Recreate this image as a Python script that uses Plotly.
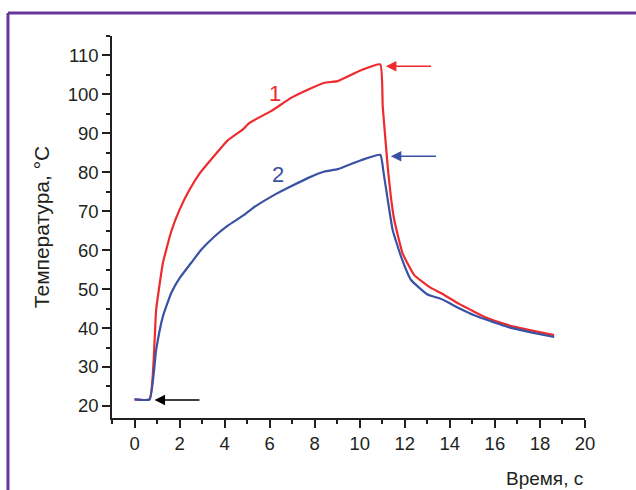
import plotly.graph_objects as go

# ---- data ----
time_1 = [0, 0.67, 0.96, 1.26, 1.63, 2.0, 2.44, 2.88, 3.55, 4.14, 4.81, 5.10, 6.06, 6.95,
          7.69, 8.43, 9.02, 10.05, 10.91, 11.02, 11.24, 11.38, 11.53, 11.90, 12.42, 13.16,
          13.6, 14.41, 15.08, 15.6, 16.56, 17.6, 18.63]
temp_1 = [21.7, 21.7, 44.7, 56.7, 64.8, 70.4, 75.5, 79.6, 84.3, 88.2, 91.0, 92.7, 95.7, 99.1,
          101.2, 103.0, 103.4, 106.2, 107.7, 96.9, 81.5, 73.8, 67.8, 59.2, 53.6, 50.3,
          49.0, 46.2, 44.2, 42.7, 40.8, 39.4, 38.2]

time_2 = [0, 0.67, 0.96, 1.26, 1.63, 2.0, 2.51, 2.96, 3.55, 4.14, 4.88, 5.25, 6.21, 6.95,
          7.69, 8.43, 9.02, 10.05, 10.91, 11.06, 11.24, 11.46, 11.83, 12.27, 13.01, 13.6,
          14.41, 15.08, 15.6, 16.56, 17.6, 18.63]
temp_2 = [21.7, 21.7, 34.4, 43.0, 49.0, 52.8, 56.7, 60.1, 63.5, 66.3, 69.1, 70.8, 74.2, 76.4,
          78.5, 80.2, 80.8, 83.1, 84.5, 79.8, 73.0, 65.2, 58.4, 52.4, 48.6, 47.5,
          45.1, 43.3, 42.2, 40.3, 38.9, 37.7]

curve_labels = ["1", "2"]
label_pos_t = [6.25, 6.36]
label_pos_T = [100.3, 79.4]

# arrows: (tip_t, tail_t, T)
arrow_tip_t = [11.16, 11.38, 0.89]
arrow_tail_t = [13.23, 13.45, 2.95]
arrow_T = [107.2, 84.1, 21.5]

x_range = [-1, 20]
y_range = [16.9, 115]
x_title = "Время, с"
y_title = "Температура, °C"

RED = "#ee2a2e"
BLUE = "#3a52a3"
PURPLE = "#66379a"
INK = "#231f20"
FONT = "Liberation Sans, Arial, sans-serif"

fig = go.Figure()
fig.add_trace(go.Scatter(x=time_1, y=temp_1, mode="lines", line_shape="spline",
                         line=dict(color=RED, width=2.2, smoothing=0.4), showlegend=False))
fig.add_trace(go.Scatter(x=time_2, y=temp_2, mode="lines", line_shape="spline",
                         line=dict(color=BLUE, width=2.2, smoothing=0.4), showlegend=False))

for txt, tx, ty, col in zip(curve_labels, label_pos_t, label_pos_T, [RED, BLUE]):
    fig.add_annotation(x=tx, y=ty, text=txt, showarrow=False,
                       font=dict(family=FONT, size=22, color=col))

for tip, tail, T, col in zip(arrow_tip_t, arrow_tail_t, arrow_T, [RED, BLUE, "black"]):
    fig.add_annotation(x=tip, y=T, ax=tail, ay=T, axref="x", ayref="y", xref="x", yref="y",
                       text="", showarrow=True, arrowhead=2, arrowsize=1.4,
                       arrowwidth=1.5, arrowcolor=col)

fig.add_annotation(x=1.0, y=-0.125, xref="paper", yref="paper", xanchor="right",
                   yanchor="top", text=x_title, showarrow=False,
                   font=dict(family=FONT, size=19, color=INK))

axis_common = dict(showline=True, linecolor=INK, linewidth=1.5, ticks="outside",
                   ticklen=8, tickwidth=1.5, tickcolor=INK, showgrid=False, zeroline=False,
                   automargin=False,
                   tickfont=dict(family=FONT, size=18.5, color=INK))

fig.update_xaxes(range=x_range, tick0=0, dtick=2,
                 minor=dict(dtick=1, ticks="outside", ticklen=4, tickwidth=1.5,
                            tickcolor=INK, showgrid=False),
                 **axis_common)
fig.update_yaxes(range=y_range, tick0=20, dtick=10,
                 minor=dict(dtick=5, ticks="outside", ticklen=4, tickwidth=1.5,
                            tickcolor=INK, showgrid=False),
                 title=dict(text=y_title, standoff=12,
                            font=dict(family=FONT, size=21, color=INK)),
                 **axis_common)

# purple frame (left and top)
fig.add_shape(type="line", xref="paper", yref="paper", x0=-0.2199, x1=-0.2199,
              y0=-0.2, y1=1.0602, line=dict(color=PURPLE, width=3))
fig.add_shape(type="line", xref="paper", yref="paper", x0=-0.2199, x1=1.12,
              y0=1.0602, y1=1.0602, line=dict(color=PURPLE, width=3))

fig.update_layout(width=636, height=490, margin=dict(l=112, r=51, t=36, b=72),
                  plot_bgcolor="white", paper_bgcolor="white",
                  font=dict(family=FONT, color=INK))

fig.write_html("out.html", config={"displayModeBar": False},
               post_script="document.body.style.margin='0';document.body.style.overflow='hidden';")
